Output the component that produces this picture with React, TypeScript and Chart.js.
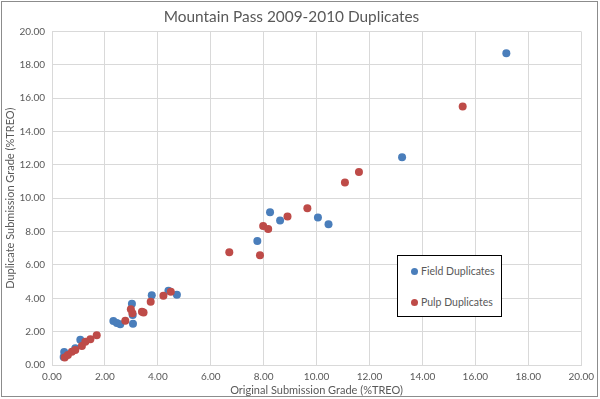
import React, { useEffect, useRef } from "react";
import { Chart, registerables } from "chart.js";

Chart.register(...registerables);

const fieldX = [0.44, 0.46, 0.88, 1.07, 2.32, 2.45, 2.58, 3.02, 3.05, 3.06, 3.77, 4.4, 4.72, 7.76, 8.24, 8.62, 10.05, 10.45, 13.23, 17.17];
const fieldY = [0.48, 0.78, 1.0, 1.52, 2.64, 2.52, 2.44, 3.68, 3.0, 2.48, 4.18, 4.46, 4.22, 7.44, 9.16, 8.66, 8.84, 8.44, 12.46, 18.7];

const pulpX = [0.48, 0.6, 0.75, 0.88, 1.13, 1.26, 1.45, 1.69, 2.77, 2.98, 3.04, 3.4, 3.46, 3.73, 4.21, 4.49, 6.7, 7.86, 7.98, 8.17, 8.9, 9.65, 11.07, 11.6, 15.52];
const pulpY = [0.45, 0.6, 0.8, 0.9, 1.14, 1.4, 1.55, 1.78, 2.66, 3.34, 3.1, 3.2, 3.15, 3.8, 4.16, 4.4, 6.76, 6.58, 8.34, 8.16, 8.9, 9.4, 10.94, 11.58, 15.5];

const seriesNames = ["Field Duplicates", "Pulp Duplicates"];
const seriesColors = ["#4a7ebb", "#be4b48"];
const titleText = "Mountain Pass 2009-2010 Duplicates";
const xTitle = "Original Submission Grade (%TREO)";
const yTitle = "Duplicate Submission Grade (%TREO)";

const FONT = "Lato, 'Open Sans', sans-serif";
const TEXT = "#595959";

export default function App() {
  const ref = useRef<HTMLCanvasElement | null>(null);

  useEffect(() => {
    if (!ref.current) return;
    const field = fieldX.map((x, i) => ({ x, y: fieldY[i] }));
    const pulp = pulpX.map((x, i) => ({ x, y: pulpY[i] }));
    const chart = new Chart(ref.current, {
      type: "scatter",
      data: {
        datasets: [
          {
            label: seriesNames[0],
            data: field,
            backgroundColor: seriesColors[0],
            borderColor: seriesColors[0],
            pointRadius: 4,
            pointBorderWidth: 0,
            order: 1,
          },
          {
            label: seriesNames[1],
            data: pulp,
            backgroundColor: seriesColors[1],
            borderColor: seriesColors[1],
            pointRadius: 4,
            pointBorderWidth: 0,
            order: 0,
          },
        ],
      },
      options: {
        responsive: false,
        animation: false,
        layout: { padding: { left: 0, right: 17, top: 0, bottom: 0 } },
        plugins: {
          legend: { display: false },
          tooltip: { enabled: false },
          title: {
            display: true,
            text: titleText,
            color: TEXT,
            font: { family: FONT, size: 15.4, weight: "normal" },
            padding: { top: 8, bottom: 5 },
          },
        },
        scales: {
          x: {
            type: "linear",
            min: 0,
            max: 20,
            afterFit: (s: any) => {
              s.height = 34;
            },
            ticks: {
              stepSize: 2,
              color: TEXT,
              font: { family: FONT, size: 10 },
              padding: 6,
              callback: (v: any) => Number(v).toFixed(2),
            },
            grid: { color: "#d9d9d9", lineWidth: 1, drawTicks: false },
            border: { color: "#d9d9d9" },
            title: {
              display: true,
              text: xTitle,
              color: TEXT,
              font: { family: FONT, size: 11 },
              padding: { top: 0, bottom: 2 },
            },
          },
          y: {
            type: "linear",
            min: 0,
            max: 20,
            afterFit: (s: any) => {
              s.width = 52;
            },
            ticks: {
              stepSize: 2,
              color: TEXT,
              font: { family: FONT, size: 10 },
              padding: 7,
              callback: (v: any) => Number(v).toFixed(2),
            },
            grid: { color: "#d9d9d9", lineWidth: 1, drawTicks: false },
            border: { color: "#d9d9d9" },
            title: {
              display: true,
              text: yTitle,
              color: TEXT,
              font: { family: FONT, size: 11 },
              padding: { top: 4, bottom: 0 },
            },
          },
        },
      },
    });
    return () => chart.destroy();
  }, []);

  return (
    <div style={{ position: "fixed", left: 0, top: 0, width: 600, height: 399, background: "#fff" }}>
      <canvas ref={ref} width={600} height={399} style={{ display: "block", width: 600, height: 399 }} />
      <div
        style={{
          position: "absolute",
          left: 1,
          top: 1,
          width: 597,
          height: 396,
          border: "1px solid #8c8c8c",
          boxSizing: "border-box",
          pointerEvents: "none",
        }}
      />
      <div
        style={{
          position: "absolute",
          left: 397,
          top: 255,
          width: 105,
          height: 62,
          border: "1px solid #000",
          boxSizing: "border-box",
          background: "#fff",
          fontFamily: FONT,
          fontSize: 10.5,
          color: TEXT,
        }}
      >
        {seriesNames.map((n, i) => (
          <div
            key={n}
            style={{
              position: "absolute",
              left: 13,
              top: i === 0 ? 8 : 39,
              display: "flex",
              alignItems: "center",
              whiteSpace: "nowrap",
              lineHeight: "14px",
            }}
          >
            <span
              style={{
                display: "inline-block",
                width: 7,
                height: 7,
                borderRadius: "50%",
                background: seriesColors[i],
                marginRight: 3,
              }}
            />
            {n}
          </div>
        ))}
      </div>
    </div>
  );
}
